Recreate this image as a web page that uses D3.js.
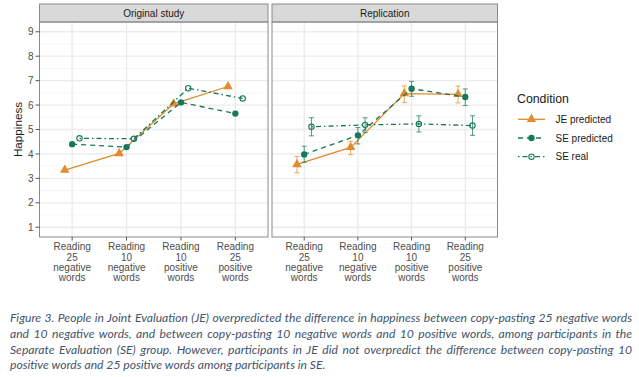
<!DOCTYPE html>
<html>
<head>
<meta charset="utf-8">
<script src="https://cdn.jsdelivr.net/npm/d3@7"></script>
<style>
  body { margin: 0; background: #fff; }
  svg { display: block; }
</style>
</head>
<body>
<div id="chart"></div>
<script>
const width = 639, height = 377;

// data
const panelNames = ["Original study", "Replication"];
const categories = ["neg25", "neg10", "pos10", "pos25"];
const tickLabels = [
  ["Reading", "25", "negative", "words"],
  ["Reading", "10", "negative", "words"],
  ["Reading", "10", "positive", "words"],
  ["Reading", "25", "positive", "words"]
];
const conditions = ["JE predicted", "SE predicted", "SE real"];
const yTicks = [1, 2, 3, 4, 5, 6, 7, 8, 9];

const origJE = [3.34, 4.02, 6.05, 6.76];
const origSEpred = [4.40, 4.28, 6.11, 5.65];
const origSEreal = [4.64, 4.62, 6.69, 6.27];

const repJE = [3.57, 4.27, 6.47, 6.44];
const repJElo = [3.23, 3.97, 6.10, 6.09];
const repJEhi = [3.90, 4.52, 6.78, 6.78];
const repSEpred = [3.98, 4.76, 6.67, 6.33];
const repSEpredLo = [3.66, 4.41, 6.36, 5.98];
const repSEpredHi = [4.32, 5.08, 6.97, 6.66];
const repSEreal = [5.11, 5.19, 5.23, 5.16];
const repSErealLo = [4.74, 4.87, 4.90, 4.76];
const repSErealHi = [5.48, 5.48, 5.56, 5.56];

const captionLines = [
  "Figure 3. People in Joint Evaluation (JE) overpredicted the difference in happiness between copy-pasting 25 negative words",
  "and 10 negative words, and between copy-pasting 10 negative words and 10 positive words, among participants in the",
  "Separate Evaluation (SE) group. However, participants in JE did not overpredict the difference between copy-pasting 10",
  "positive words and 25 positive words among participants in SE."
];

// styles per condition
const orange = "#E38A2B", green = "#16785A";
const style = {
  "JE predicted": {color: orange, dash: null, shape: "triangle", dodge: -0.135},
  "SE predicted": {color: green, dash: "5,4", shape: "dot", dodge: 0},
  "SE real": {color: green, dash: "1.5,3,5,3", shape: "ring", dodge: 0.135}
};

function rows(vals, lo, hi) {
  return vals.map((v, i) => ({cat: categories[i], y: v, lo: lo ? lo[i] : null, hi: hi ? hi[i] : null}));
}

const panels = [
  {name: panelNames[0], x0: 39.5, x1: 268, series: [
    {cond: "JE predicted", data: rows(origJE)},
    {cond: "SE predicted", data: rows(origSEpred)},
    {cond: "SE real", data: rows(origSEreal)}
  ]},
  {name: panelNames[1], x0: 272, x1: 497.5, series: [
    {cond: "JE predicted", data: rows(repJE, repJElo, repJEhi)},
    {cond: "SE predicted", data: rows(repSEpred, repSEpredLo, repSEpredHi)},
    {cond: "SE real", data: rows(repSEreal, repSErealLo, repSErealHi)}
  ]}
];

const stripTop = 4, stripBottom = 22, plotBottom = 237;

const svg = d3.select("#chart").append("svg")
  .attr("width", width)
  .attr("height", height)
  .style("font-family", "'Liberation Sans', Arial, sans-serif");

const y = d3.scaleLinear().domain([0.6, 9.4]).range([plotBottom, stripBottom]);
const minorTicks = d3.range(1.5, 9, 1);

function drawMarker(sel, shape, color, size) {
  if (shape === "triangle") {
    sel.append("path")
      .attr("d", d3.symbol().type(d3.symbolTriangle).size(size * 1.5)())
      .attr("fill", color);
  } else if (shape === "dot") {
    sel.append("circle").attr("r", Math.sqrt(size / Math.PI) + 0.3).attr("fill", color);
  } else {
    sel.append("circle").attr("r", Math.sqrt(size / Math.PI) - 0.2)
      .attr("fill", "none").attr("stroke", color).attr("stroke-width", 1.1);
  }
}

panels.forEach((p, pi) => {
  const x = d3.scalePoint().domain(categories).range([p.x0, p.x1]).padding(0.6);
  const step = x.step();
  const g = svg.append("g");

  // grid
  g.selectAll(".minor").data(minorTicks).join("line")
    .attr("x1", p.x0).attr("x2", p.x1)
    .attr("y1", d => y(d)).attr("y2", d => y(d))
    .attr("stroke", "#F2F2F2").attr("stroke-width", 0.7);
  g.selectAll(".major").data(yTicks).join("line")
    .attr("x1", p.x0).attr("x2", p.x1)
    .attr("y1", d => y(d)).attr("y2", d => y(d))
    .attr("stroke", "#EBEBEB").attr("stroke-width", 1.3);
  g.selectAll(".vmajor").data(categories).join("line")
    .attr("x1", d => x(d)).attr("x2", d => x(d))
    .attr("y1", stripBottom).attr("y2", plotBottom)
    .attr("stroke", "#EBEBEB").attr("stroke-width", 1.3);

  // strip
  g.append("rect")
    .attr("x", p.x0).attr("y", stripTop)
    .attr("width", p.x1 - p.x0).attr("height", stripBottom - stripTop)
    .attr("fill", "#D9D9D9").attr("stroke", "#8a8a8a").attr("stroke-width", 1);
  g.append("text")
    .attr("x", (p.x0 + p.x1) / 2).attr("y", (stripTop + stripBottom) / 2)
    .attr("dy", "0.36em").attr("text-anchor", "middle")
    .attr("font-size", 10).attr("fill", "#1a1a1a")
    .text(p.name);

  // series
  p.series.forEach(s => {
    const st = style[s.cond];
    const px = d => x(d.cat) + st.dodge * step;

    g.append("path")
      .datum(s.data)
      .attr("d", d3.line().x(px).y(d => y(d.y)))
      .attr("fill", "none")
      .attr("stroke", st.color)
      .attr("stroke-width", 1.3)
      .attr("stroke-dasharray", st.dash);

    const eb = s.data.filter(d => d.lo != null);
    const ebG = g.append("g").attr("stroke", st.color).attr("stroke-width", 1).attr("opacity", 0.75);
    ebG.selectAll("line.v").data(eb).join("line")
      .attr("x1", px).attr("x2", px)
      .attr("y1", d => y(d.lo)).attr("y2", d => y(d.hi));
    ebG.selectAll("line.t").data(eb).join("line")
      .attr("x1", d => px(d) - 2.5).attr("x2", d => px(d) + 2.5)
      .attr("y1", d => y(d.hi)).attr("y2", d => y(d.hi));
    ebG.selectAll("line.b").data(eb).join("line")
      .attr("x1", d => px(d) - 2.5).attr("x2", d => px(d) + 2.5)
      .attr("y1", d => y(d.lo)).attr("y2", d => y(d.lo));

    g.selectAll(null).data(s.data).join("g")
      .attr("transform", d => `translate(${px(d)},${y(d.y)})`)
      .each(function() { drawMarker(d3.select(this), st.shape, st.color, 26); });
  });

  // panel border
  g.append("rect")
    .attr("x", p.x0).attr("y", stripBottom)
    .attr("width", p.x1 - p.x0).attr("height", plotBottom - stripBottom)
    .attr("fill", "none").attr("stroke", "#8a8a8a").attr("stroke-width", 1);

  // x axis
  const xAxis = svg.append("g").attr("transform", `translate(0,${plotBottom})`);
  categories.forEach((c, i) => {
    xAxis.append("line")
      .attr("x1", x(c)).attr("x2", x(c)).attr("y1", 0).attr("y2", 3.5)
      .attr("stroke", "#555");
    const t = xAxis.append("text")
      .attr("text-anchor", "middle")
      .attr("font-size", 10).attr("fill", "#4D4D4D");
    tickLabels[i].forEach((l, li) => {
      t.append("tspan").attr("x", x(c)).attr("y", 13.3 + li * 10.2).text(l);
    });
  });

  // y axis on the first panel only
  if (pi === 0) {
    const yAxis = svg.append("g");
    yTicks.forEach(v => {
      yAxis.append("line")
        .attr("x1", p.x0 - 4).attr("x2", p.x0).attr("y1", y(v)).attr("y2", y(v))
        .attr("stroke", "#555");
      yAxis.append("text")
        .attr("x", p.x0 - 6).attr("y", y(v)).attr("dy", "0.36em")
        .attr("text-anchor", "end").attr("font-size", 10).attr("fill", "#4D4D4D")
        .text(v);
    });
  }
});

// y title
svg.append("text")
  .attr("transform", `translate(22,${(stripBottom + plotBottom) / 2}) rotate(-90)`)
  .attr("text-anchor", "middle").attr("font-size", 11.7).attr("fill", "#1a1a1a")
  .text("Happiness");

// legend
const legend = svg.append("g").attr("transform", "translate(517,0)");
legend.append("text")
  .attr("x", 0).attr("y", 99).attr("dy", "0.36em")
  .attr("font-size", 12.3).attr("fill", "#1a1a1a")
  .text("Condition");
conditions.forEach((c, i) => {
  const st = style[c];
  const ly = 119.3 + i * 18.7;
  legend.append("line")
    .attr("x1", 1).attr("x2", 28).attr("y1", ly).attr("y2", ly)
    .attr("stroke", st.color).attr("stroke-width", 1.3)
    .attr("stroke-dasharray", st.dash);
  drawMarker(legend.append("g").attr("transform", `translate(14.5,${ly})`), st.shape, st.color, 26);
  legend.append("text")
    .attr("x", 38.5).attr("y", ly).attr("dy", "0.36em")
    .attr("font-size", 10).attr("fill", "#1a1a1a")
    .text(c);
});

// caption, justified
const capLeft = 10, capRight = 632;
const cap = svg.append("g")
  .style("font-family", "Lato, 'Open Sans', sans-serif")
  .style("font-style", "italic")
  .attr("fill", "#44546A");
// size the font so the short last line matches the picture
const probe = cap.append("text").attr("font-size", 12).text(captionLines[3]);
const probeW = probe.node().getComputedTextLength();
probe.remove();
const capSize = 12 * (316 / probeW);
captionLines.forEach((line, i) => {
  const t = cap.append("text")
    .attr("x", capLeft).attr("y", 318 + i * 15.7).attr("dy", "0.36em")
    .attr("font-size", capSize)
    .text(line);
  if (i < captionLines.length - 1) {
    const w = t.node().getComputedTextLength();
    const spaces = line.split(" ").length - 1;
    t.attr("word-spacing", (capRight - capLeft - w) / spaces);
  }
});
</script>
</body>
</html>
